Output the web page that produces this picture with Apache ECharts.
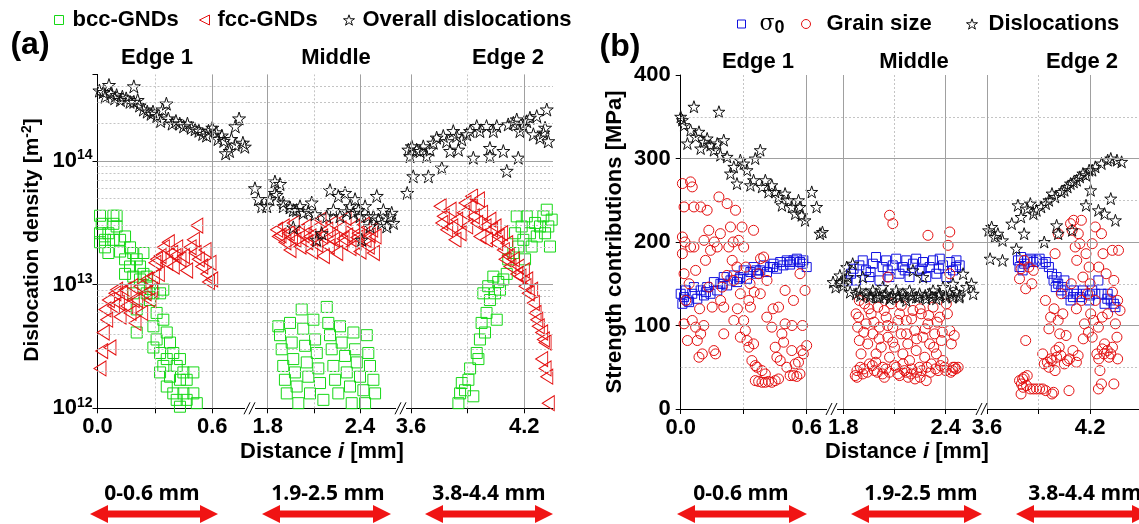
<!DOCTYPE html>
<html><head><meta charset="utf-8">
<script src="https://cdn.jsdelivr.net/npm/echarts@6/dist/echarts.min.js"></script>
<style>html,body{margin:0;padding:0;background:#fff}#c{width:1139px;height:524px}</style>
</head><body><div id="c"></div>
<script>
// ---------------- DATA ----------------
// Panel (a): dislocation density [m^-2] vs distance [mm]
const aEdge1Bcc = [[0.013,3.6e13],[0.013,2.6e13],[0.013,2.2e13],[0.022,3.1e13],[0.039,2.3e13],[0.039,2.0e13],[0.057,2.6e13],[0.057,1.8e13],[0.083,3.6e13],[0.083,3.1e13],[0.083,2.3e13],[0.10,3.6e13],[0.10,2.95e13],[0.118,2.3e13],[0.118,1.85e13],[0.144,2.45e13],[0.144,1.6e13],[0.144,1.22e13],[0.17,2.0e13],[0.17,1.4e13],[0.187,1.8e13],[0.187,1.16e13],[0.187,8.5e12],[0.205,1.6e13],[0.205,6.3e12],[0.205,4.1e12],[0.222,1.4e13],[0.222,1.1e13],[0.24,1.8e13],[0.24,1.22e13],[0.257,1.16e13],[0.257,8.5e12],[0.274,9.7e12],[0.274,7.5e12],[0.292,8.5e12],[0.292,4.6e12],[0.292,3.1e12],[0.309,5.9e12],[0.309,3.6e12],[0.327,8.5e12],[0.327,2.8e12],[0.327,1.95e12],[0.344,9.1e12],[0.344,5.2e12],[0.344,2.2e12],[0.362,4.1e12],[0.362,2.5e12],[0.362,1.5e12],[0.379,3.4e12],[0.379,1.8e12],[0.396,2.8e12],[0.396,1.32e12],[0.414,2.2e12],[0.414,1.17e12],[0.431,2.5e12],[0.431,1.7e12],[0.431,1.03e12],[0.449,1.95e12],[0.449,1.32e12],[0.466,1.7e12],[0.466,1.17e12],[0.501,1.95e12],[0.501,1.32e12],[0.519,1.1e12]];
const aEdge1Fcc = [[0.013,2.1e12],[0.022,2.9e12],[0.030,4.1e12],[0.039,6.3e12],[0.048,5.2e12],[0.057,7.5e12],[0.065,3.1e12],[0.083,6.7e12],[0.091,8.5e12],[0.1,9.1e12],[0.109,7.1e12],[0.118,5.5e12],[0.127,8.5e12],[0.144,9.1e12],[0.153,6.7e12],[0.17,5.9e12],[0.179,9.7e12],[0.187,7.5e12],[0.196,4.9e12],[0.205,7.5e12],[0.222,9.7e12],[0.231,5.9e12],[0.249,8.5e12],[0.257,1.1e13],[0.274,7.5e12],[0.283,9.1e12],[0.292,1.16e13],[0.3,1.5e13],[0.309,1.6e13],[0.318,1.22e13],[0.327,1.7e13],[0.344,2.0e13],[0.362,1.5e13],[0.37,2.2e13],[0.388,1.8e13],[0.396,1.4e13],[0.405,1.7e13],[0.414,2.0e13],[0.431,1.6e13],[0.449,1.7e13],[0.466,1.3e13],[0.484,2.0e13],[0.501,2.3e13],[0.51,1.8e13],[0.519,3.0e13],[0.527,1.6e13],[0.545,1.4e13],[0.562,1.9e13],[0.571,1.22e13],[0.58,1.05e13],[0.588,1.5e13],[0.597,1.1e13]];
const aEdge1Star = [[0.01,3.7e14],[0.03,3.6e14],[0.04,3.3e14],[0.06,4.1e14],[0.07,3.5e14],[0.09,3.2e14],[0.10,3.4e14],[0.12,3.1e14],[0.13,3.3e14],[0.15,3.2e14],[0.17,3.0e14],[0.19,4.0e14],[0.19,3.0e14],[0.21,3.1e14],[0.22,2.8e14],[0.24,2.6e14],[0.26,2.5e14],[0.28,2.4e14],[0.29,2.5e14],[0.31,2.3e14],[0.33,2.1e14],[0.34,2.6e14],[0.36,2.9e14],[0.37,2.2e14],[0.39,2.0e14],[0.41,2.1e14],[0.43,2.0e14],[0.45,1.9e14],[0.47,2.0e14],[0.49,1.85e14],[0.51,1.8e14],[0.53,1.75e14],[0.55,1.65e14],[0.57,1.6e14],[0.58,1.75e14],[0.60,1.85e14],[0.62,1.7e14],[0.63,1.5e14],[0.65,1.6e14],[0.66,1.45e14],[0.67,1.15e14],[0.69,1.2e14],[0.70,1.5e14],[0.72,1.35e14],[0.72,1.9e14],[0.74,2.2e14],[0.76,1.4e14],[0.77,1.3e14]];
const aMidBcc = [[1.869,4.6e12],[1.88,3.9e12],[1.891,3.0e12],[1.901,2.2e12],[1.912,1.7e12],[1.924,1.32e12],[1.945,4.9e12],[1.956,3.4e12],[1.966,2.5e12],[1.977,1.95e12],[1.988,1.5e12],[1.999,1.1e12],[2.021,6.3e12],[2.031,4.4e12],[2.043,3.2e12],[2.054,2.35e12],[2.064,1.8e12],[2.075,1.32e12],[2.097,5.2e12],[2.108,3.6e12],[2.119,2.8e12],[2.129,2.1e12],[2.14,1.6e12],[2.162,1.17e12],[2.184,6.6e12],[2.194,4.9e12],[2.205,3.9e12],[2.216,3.0e12],[2.227,2.2e12],[2.238,1.7e12],[2.259,1.32e12],[2.27,4.6e12],[2.281,3.4e12],[2.303,2.65e12],[2.314,1.95e12],[2.335,1.5e12],[2.346,1.1e12],[2.357,4.1e12],[2.368,3.0e12],[2.379,2.35e12],[2.4,1.8e12],[2.422,1.4e12],[2.433,1.1e12],[2.444,3.9e12],[2.454,2.8e12],[2.465,2.2e12],[2.487,1.7e12],[2.498,1.32e12]];
const aMidFcc = [[1.858,2.78e13],[1.869,2.45e13],[1.88,2.5e13],[1.901,2.95e13],[1.912,2.2e13],[1.934,2.6e13],[1.945,1.9e13],[1.955,2.4e13],[1.966,3.15e13],[1.977,2.3e13],[1.999,2.7e13],[2.01,2.03e13],[2.03,2.5e13],[2.043,2.95e13],[2.054,2.2e13],[2.075,2.45e13],[2.086,1.85e13],[2.1,2.35e13],[2.108,2.85e13],[2.119,2.1e13],[2.14,3.35e13],[2.151,2.45e13],[2.162,1.7e13],[2.184,2.78e13],[2.194,2.03e13],[2.2,2.4e13],[2.216,3.15e13],[2.227,2.3e13],[2.249,1.8e13],[2.27,2.85e13],[2.281,2.16e13],[2.29,2.35e13],[2.303,3.45e13],[2.314,2.5e13],[2.335,1.97e13],[2.357,2.95e13],[2.368,2.2e13],[2.38,2.4e13],[2.389,2.6e13],[2.4,1.85e13],[2.422,3.05e13],[2.433,2.3e13],[2.454,2.03e13],[2.46,2.5e13],[2.476,2.78e13],[2.487,1.8e13],[2.498,2.45e13]];
const aMidStar = [[1.717,6.0e13],[1.739,4.9e13],[1.761,4.3e13],[1.794,4.3e13],[1.815,4.9e13],[1.847,6.8e13],[1.847,5.5e13],[1.858,5.3e13],[1.88,6.5e13],[1.901,4.3e13],[1.901,4.6e13],[1.945,4.2e13],[1.966,2.9e13],[1.966,4.0e13],[1.988,4.0e13],[2.01,4.3e13],[2.031,3.8e13],[2.064,3.9e13],[2.086,4.6e13],[2.108,3.7e13],[2.119,2.3e13],[2.151,2.6e13],[2.184,3.56e13],[2.205,5.8e13],[2.227,4.0e13],[2.259,5.2e13],[2.27,3.56e13],[2.303,5.5e13],[2.314,3.9e13],[2.335,4.3e13],[2.357,3.8e13],[2.368,4.9e13],[2.389,4.0e13],[2.4,3.56e13],[2.411,2.3e13],[2.433,4.3e13],[2.454,3.56e13],[2.465,2.95e13],[2.487,3.56e13],[2.509,5.2e13],[2.519,3.35e13],[2.541,3.15e13],[2.552,4.0e13],[2.574,2.95e13],[2.595,3.56e13],[2.606,3.8e13],[2.617,3.15e13]];
const aEdge2Bcc = [[3.851,1.1e12],[3.86,1.32e12],[3.869,1.6e12],[3.886,1.4e12],[3.904,1.7e12],[3.913,2.1e12],[3.93,1.25e12],[3.948,2.8e12],[3.957,2.5e12],[3.965,3.6e12],[3.974,4.9e12],[3.983,8.5e12],[3.992,4.1e12],[4.0,5.9e12],[4.009,9.7e12],[4.018,7.5e12],[4.036,1.16e13],[4.045,8.5e12],[4.054,5.2e12],[4.062,1.05e13],[4.071,9.1e12],[4.089,1.1e13],[4.107,1.22e13],[4.115,1.6e13],[4.142,1.8e13],[4.151,2.6e13],[4.16,3.56e13],[4.168,2.03e13],[4.186,2.95e13],[4.195,2.3e13],[4.204,1.6e13],[4.213,3.56e13],[4.23,2.6e13],[4.239,2.03e13],[4.257,3.15e13],[4.266,2.45e13],[4.283,2.95e13],[4.301,3.56e13],[4.31,2.6e13],[4.319,4.03e13],[4.327,2.95e13],[4.336,2.03e13],[4.345,3.35e13]];
const aEdge2Fcc = [[3.754,4.3e13],[3.763,3.15e13],[3.771,3.56e13],[3.789,2.78e13],[3.807,4.03e13],[3.816,2.95e13],[3.833,2.3e13],[3.842,3.35e13],[3.86,2.6e13],[3.877,3.8e13],[3.886,4.57e13],[3.895,2.95e13],[3.913,4.3e13],[3.921,5.17e13],[3.93,3.56e13],[3.948,3.15e13],[3.957,4.87e13],[3.965,2.45e13],[3.974,3.8e13],[3.992,2.95e13],[4.0,2.3e13],[4.018,3.35e13],[4.027,2.78e13],[4.045,2.95e13],[4.054,2.16e13],[4.062,2.45e13],[4.08,2.6e13],[4.089,1.9e13],[4.098,1.6e13],[4.107,2.16e13],[4.115,1.7e13],[4.124,1.4e13],[4.142,1.6e13],[4.16,1.22e13],[4.168,1.4e13],[4.177,1.16e13],[4.195,1.3e13],[4.204,9.7e12],[4.213,1.1e13],[4.221,8.5e12],[4.239,9.1e12],[4.248,7.1e12],[4.257,5.9e12],[4.266,5.2e12],[4.274,4.6e12],[4.292,4.1e12],[4.301,3.6e12],[4.31,3.4e12],[4.292,2.5e12],[4.31,2.1e12],[4.319,1.8e12],[4.327,1.1e12]];
const aEdge2Star = [[3.58,5.5e13],[3.586,1.23e14],[3.595,1.09e14],[3.604,1.31e14],[3.612,7.5e13],[3.63,1.23e14],[3.648,1.2e14],[3.665,1.31e14],[3.683,1.09e14],[3.692,7.5e13],[3.701,1.23e14],[3.718,1.4e14],[3.736,1.54e14],[3.763,8.8e13],[3.771,1.59e14],[3.789,1.44e14],[3.807,1.2e14],[3.824,1.74e14],[3.842,1.59e14],[3.851,1.23e14],[3.869,1.49e14],[3.895,1.64e14],[3.913,1.74e14],[3.93,1.06e14],[3.948,1.91e14],[3.965,1.74e14],[4.0,1.91e14],[4.018,1.27e14],[4.018,1.09e14],[4.036,1.74e14],[4.054,1.91e14],[4.089,1.2e14],[4.107,8.3e13],[4.115,1.97e14],[4.142,2.03e14],[4.16,2.16e14],[4.168,1.06e14],[4.177,1.74e14],[4.195,1.91e14],[4.213,2.09e14],[4.23,2.23e14],[4.248,1.64e14],[4.266,2.3e14],[4.283,1.54e14],[4.301,1.69e14],[4.31,1.85e14],[4.319,2.6e14],[4.327,1.44e14]];

// Panel (b): strength contributions [MPa] vs distance [mm]
const bEdge1Sigma = [[0,138],[0.008,126],[0.016,134],[0.024,142],[0.032,130],[0.04,128],[0.055,138],[0.063,146],[0.079,132],[0.095,142],[0.111,136],[0.12,140],[0.126,146],[0.142,138],[0.158,152],[0.174,142],[0.189,150],[0.2,150],[0.205,158],[0.221,148],[0.237,154],[0.253,160],[0.268,152],[0.28,156],[0.284,158],[0.3,166],[0.316,156],[0.332,164],[0.347,170],[0.36,166],[0.363,162],[0.379,166],[0.395,172],[0.411,164],[0.426,170],[0.44,170],[0.442,174],[0.458,168],[0.474,176],[0.489,172],[0.505,178],[0.52,176],[0.521,173],[0.537,178],[0.553,180],[0.568,176],[0.58,174],[0.584,178],[0.6,170]];
const bEdge1Grain = [[0.008,270],[0.016,242],[0.008,206],[0.008,186],[0.016,162],[0.024,130],[0.016,102],[0.032,82],[0.047,272],[0.055,266],[0.047,194],[0.063,242],[0.063,194],[0.071,166],[0.055,106],[0.071,98],[0.079,82],[0.087,62],[0.095,90],[0.103,66],[0.095,242],[0.111,202],[0.118,178],[0.126,238],[0.134,214],[0.134,146],[0.142,190],[0.15,122],[0.158,70],[0.166,66],[0.174,194],[0.182,254],[0.189,210],[0.197,146],[0.205,122],[0.205,90],[0.221,246],[0.229,194],[0.237,218],[0.245,178],[0.253,154],[0.253,106],[0.261,238],[0.268,170],[0.276,202],[0.284,86],[0.284,138],[0.292,218],[0.3,194],[0.3,106],[0.308,94],[0.316,82],[0.324,130],[0.324,74],[0.332,122],[0.339,58],[0.347,214],[0.347,78],[0.355,52],[0.363,50],[0.371,162],[0.379,138],[0.387,46],[0.395,182],[0.403,42],[0.411,154],[0.434,98],[0.45,74],[0.458,62],[0.466,122],[0.474,58],[0.482,90],[0.497,142],[0.497,102],[0.505,50],[0.529,70],[0.537,130],[0.545,54],[0.561,56],[0.568,162],[0.576,70],[0.584,66],[0.592,142],[0.6,76],[0.355,34],[0.371,33],[0.387,32],[0.403,32],[0.418,33],[0.434,32],[0.45,34],[0.466,36],[0.521,40],[0.537,40],[0.553,39],[0.568,42],[0.02,200],[0.04,150],[0.09,120],[0.11,100],[0.16,200],[0.19,130],[0.22,160],[0.25,200],[0.27,120],[0.31,170],[0.33,150],[0.35,140],[0.38,180],[0.41,110],[0.44,120],[0.49,80],[0.53,100],[0.58,100]];
const bEdge1Disl = [[0.0,350],[0.008,346],[0.016,340],[0.032,318],[0.047,334],[0.063,362],[0.071,326],[0.087,332],[0.095,312],[0.111,320],[0.126,324],[0.142,316],[0.158,310],[0.174,318],[0.182,356],[0.189,304],[0.205,322],[0.221,302],[0.237,282],[0.253,290],[0.268,270],[0.284,298],[0.3,294],[0.316,286],[0.332,268],[0.347,274],[0.355,300],[0.379,310],[0.387,266],[0.403,274],[0.418,260],[0.434,268],[0.45,260],[0.466,254],[0.482,244],[0.497,258],[0.513,250],[0.529,242],[0.545,234],[0.561,250],[0.568,242],[0.576,232],[0.592,226],[0.624,260],[0.647,242],[0.663,210],[0.675,212]];
const bMidSigma = [[1.825,154],[1.845,162],[1.86,168],[1.875,154],[1.894,172],[1.914,178],[1.933,166],[1.953,158],[1.96,164],[1.973,174],[1.992,182],[2.012,154],[2.031,170],[2.051,178],[2.06,166],[2.071,158],[2.09,172],[2.11,180],[2.129,162],[2.149,170],[2.16,166],[2.169,178],[2.188,158],[2.208,174],[2.227,180],[2.247,166],[2.26,168],[2.267,176],[2.286,158],[2.306,170],[2.326,178],[2.345,162],[2.36,168],[2.365,180],[2.384,172],[2.404,158],[2.424,176],[2.443,166],[2.46,170],[2.463,178],[2.482,172]];
const bMidGrain = [[1.875,114],[1.884,98],[1.894,82],[1.904,66],[1.914,42],[1.924,126],[1.933,102],[1.943,78],[1.953,54],[1.963,114],[1.973,90],[1.982,46],[1.992,66],[2.002,122],[2.012,98],[2.022,74],[2.031,50],[2.041,38],[2.051,110],[2.061,86],[2.071,62],[2.08,126],[2.09,98],[2.1,74],[2.11,50],[2.12,42],[2.129,114],[2.139,90],[2.149,66],[2.159,46],[2.169,106],[2.178,78],[2.188,58],[2.198,42],[2.208,118],[2.218,94],[2.227,70],[2.247,50],[2.257,114],[2.267,86],[2.277,62],[2.286,34],[2.296,102],[2.306,78],[2.316,54],[2.326,122],[2.335,90],[2.345,66],[2.355,46],[2.365,110],[2.375,82],[2.384,58],[2.394,50],[2.404,126],[2.424,94],[2.433,78],[2.443,50],[2.453,50],[2.473,50],[2.071,232],[2.09,222],[2.296,208],[2.424,212],[2.414,196],[2.061,158],[2.424,162],[1.894,130],[1.87,40],[1.88,38],[2.18,38],[2.22,36],[2.25,38],[2.44,46],[1.88,46],[1.9,50],[1.92,48],[1.94,44],[1.97,52],[1.99,56],[2.0,44],[2.03,42],[2.05,48],[2.07,44],[2.1,52],[2.13,40],[2.15,54],[2.17,44],[2.2,48],[2.23,44],[2.26,46],[2.29,50],[2.31,44],[2.34,48],[2.37,52],[2.4,46],[2.43,44],[2.46,48],[1.89,110],[1.92,92],[1.95,120],[1.98,104],[2.01,84],[2.04,118],[2.06,100],[2.09,80],[2.12,106],[2.14,124],[2.17,90],[2.2,108],[2.23,84],[2.25,120],[2.28,96],[2.3,112],[2.33,74],[2.35,104],[2.38,92],[2.41,114],[2.45,88]];
const bMidDisl = [[1.74,152],[1.755,146],[1.78,160],[1.786,152],[1.8,148],[1.806,154],[1.82,170],[1.825,158],[1.84,140],[1.855,174],[1.875,138],[1.894,142],[1.9,136],[1.914,158],[1.933,138],[1.953,134],[1.96,136],[1.973,142],[1.992,138],[2.0,134],[2.012,134],[2.031,146],[2.04,136],[2.051,138],[2.071,132],[2.08,134],[2.09,136],[2.11,142],[2.12,136],[2.129,134],[2.149,138],[2.16,134],[2.169,130],[2.188,142],[2.2,136],[2.208,166],[2.227,134],[2.24,134],[2.247,138],[2.267,158],[2.28,136],[2.286,132],[2.306,138],[2.32,134],[2.326,142],[2.345,132],[2.36,136],[2.365,138],[2.384,146],[2.4,136],[2.404,134],[2.424,138],[2.44,134],[2.443,150],[2.463,140],[2.48,134],[2.482,136],[2.502,162],[2.522,146],[2.551,150],[2.561,138]];
const bEdge2Sigma = [[3.78,178],[3.789,170],[3.798,182],[3.807,166],[3.816,174],[3.834,178],[3.852,180],[3.87,176],[3.888,178],[3.906,180],[3.924,174],[3.942,176],[3.96,170],[3.978,162],[3.987,154],[4.0,146],[4.005,158],[4.014,150],[4.032,142],[4.04,146],[4.05,154],[4.068,138],[4.086,130],[4.1,134],[4.104,142],[4.122,138],[4.14,134],[4.158,142],[4.176,138],[4.194,130],[4.2,136],[4.212,142],[4.23,138],[4.248,154],[4.266,138],[4.284,126],[4.3,132],[4.302,138],[4.32,130],[4.338,126],[4.347,122]];
const bEdge2Grain = [[3.789,156],[3.798,168],[3.816,178],[3.825,144],[3.843,170],[3.861,150],[3.87,166],[3.825,82],[3.789,34],[3.807,36],[3.816,38],[3.834,40],[3.798,18],[3.852,24],[3.87,24],[3.888,24],[3.906,24],[3.924,24],[3.942,22],[3.978,18],[3.987,20],[3.924,66],[3.933,54],[3.951,56],[3.96,50],[3.978,58],[3.996,186],[3.996,46],[4.005,62],[4.014,210],[4.014,106],[4.023,90],[4.032,138],[4.041,114],[4.05,54],[4.068,58],[4.077,22],[4.086,222],[4.095,214],[4.104,226],[4.113,194],[4.122,178],[4.131,210],[4.14,198],[4.149,226],[4.158,158],[4.167,102],[4.176,186],[4.185,138],[4.194,170],[4.203,114],[4.212,198],[4.212,86],[4.23,218],[4.23,130],[4.239,66],[4.248,98],[4.257,46],[4.266,210],[4.275,186],[4.284,78],[4.293,162],[4.302,114],[4.32,66],[4.329,190],[4.338,154],[4.347,102],[4.338,30],[4.356,86],[4.248,24],[4.266,30],[4.365,190],[4.374,118],[3.96,96],[3.99,120],[4.02,74],[4.06,88],[4.1,70],[4.13,64],[4.16,84],[4.19,92],[4.22,106],[4.27,72],[4.31,62],[4.36,130],[3.94,130],[3.97,110],[3.8,30],[3.81,26],[3.83,28],[3.97,60],[4.0,70],[4.03,64],[4.08,60],[4.12,56],[4.25,60],[4.28,66],[4.3,70],[4.33,74],[4.36,60],[4.09,150],[4.12,120],[4.15,130],[4.2,150],[4.25,170],[4.27,110],[4.33,140]];
const bEdge2Disl = [[3.609,214],[3.618,180],[3.627,218],[3.645,206],[3.663,210],[3.69,202],[3.69,178],[3.744,222],[3.771,192],[3.78,244],[3.798,230],[3.816,210],[3.834,240],[3.852,246],[3.87,234],[3.888,238],[3.915,242],[3.933,200],[3.942,246],[3.96,250],[3.978,258],[3.996,254],[4.005,220],[4.014,210],[4.032,260],[4.05,262],[4.068,266],[4.086,270],[4.095,214],[4.104,272],[4.122,274],[4.14,278],[4.158,282],[4.176,280],[4.176,244],[4.194,286],[4.203,262],[4.212,286],[4.23,290],[4.248,238],[4.266,294],[4.284,234],[4.302,298],[4.32,300],[4.32,252],[4.347,226],[4.356,298],[4.383,296]];

// tick labels / tick positions per axis segment
const segLabels = [[0, 0.6], [1.8, 2.4], [3.6, 4.2]];
const segTicks = [[0, 0.3, 0.6], [1.8, 2.1, 2.4], [3.6, 3.9, 4.2]];
const segMinorLines = [[0.3], [2.1], [3.9]];
const segMajorLines = [[0.6], [1.8, 2.4], [3.6, 4.2]];
const aYRange = [1e12, 5e14];
const aYMajor = [1e13, 1e14];
const aYMinor = [2e12,3e12,4e12,5e12,6e12,7e12,8e12,9e12,2e13,3e13,4e13,5e13,6e13,7e13,8e13,9e13,2e14,3e14,4e14];
const bYRange = [0, 400];
const bYMajor = [100, 200, 300];
const bYMinor = [50, 150, 250, 350];
const segTitles = ['Edge 1', 'Middle', 'Edge 2'];
const rangeLabels = ['0-0.6 mm', '1.9-2.5 mm', '3.8-4.4 mm'];

// ---------------- LAYOUT ----------------
const FONT = '"Liberation Sans", Arial, sans-serif';
const A = {top: 74.4, bottom: 408.3, segs: [
  {x0: 97.5, x1: 248, p: [97.5, 212.3]},
  {x0: 248, x1: 404, p: [267.7, 360]},
  {x0: 404, x1: 553, p: [411, 524.3]}]};
const B = {top: 75, bottom: 409, segs: [
  {x0: 680.7, x1: 829, p: [680.7, 806.7]},
  {x0: 829, x1: 983, p: [843.3, 945.7]},
  {x0: 983, x1: 1150, p: [987.3, 1097.7]}]};
function extent(s, v) {
  const k = (s.p[1] - s.p[0]) / (v[1] - v[0]);
  return [v[0] - (s.p[0] - s.x0) / k, v[0] + (s.x1 - s.p[0]) / k];
}

const GREEN = '#16d816', RED = '#e41010', BLUE = '#1010e0', BLACK = '#111';
const TRI = 'path://M0,50 L100,0 L100,100 Z';
const STAR = 'path://M50,0 L61.8,35.3 L99,35.3 L69,57.1 L80.9,92.7 L50,70.8 L19.1,92.7 L31,57.1 L1,35.3 L38.2,35.3 Z';
const EMPTY = 'rgba(255,255,255,0)';

const grids = [], xAxes = [], yAxes = [], series = [];
const SOLID = {color: '#a0a0a0', width: 1, type: 'solid'};
const DOT = {color: '#c4c4c4', width: 1, type: [2, 2]};

function buildPanel(P, isLog, gOff) {
  P.segs.forEach((s, i) => {
    const g = gOff + i;
    const ext = extent(s, segLabels[i]);
    grids.push({left: s.x0, top: P.top, width: s.x1 - s.x0, height: P.bottom - P.top});
    xAxes.push({
      type: 'value', gridIndex: g, min: ext[0], max: ext[1],
      axisLine: {show: true, onZero: false, lineStyle: {color: '#000', width: 1}},
      axisTick: {show: true, customValues: segTicks[i], length: 5, lineStyle: {color: '#000'}},
      axisLabel: {show: true, customValues: segLabels[i], formatter: v => v.toFixed(1),
        fontFamily: FONT, fontWeight: 'bold', fontSize: 22, color: '#000', margin: 8},
      splitLine: {show: false}
    });
    if (isLog) {
      yAxes.push({
        type: 'log', logBase: 10, gridIndex: g, min: aYRange[0], max: aYRange[1], show: i === 0,
        axisLine: {show: true, lineStyle: {color: '#000'}},
        axisTick: {show: true, length: 5, lineStyle: {color: '#000'}},
        axisLabel: {margin: 5, color: '#000',
          formatter: v => { const l = Math.log10(v), e = Math.round(l); return Math.abs(l - e) > 1e-6 ? '' : '{b|10}{s|' + e + '}'; },
          rich: {b: {fontFamily: FONT, fontWeight: 'bold', fontSize: 22, color: '#000'},
                 s: {fontFamily: FONT, fontWeight: 'bold', fontSize: 14, color: '#000', padding: [0, 0, 11, 0]}}},
        splitLine: {show: false}
      });
    } else {
      yAxes.push({
        type: 'value', gridIndex: g, min: bYRange[0], max: bYRange[1], interval: 100, show: i === 0,
        axisLine: {show: true, lineStyle: {color: '#000'}},
        axisTick: {show: true, length: 5, lineStyle: {color: '#000'}},
        axisLabel: {margin: 10, fontFamily: FONT, fontWeight: 'bold', fontSize: 22, color: '#000'},
        splitLine: {show: false}
      });
    }
    const major = isLog ? aYMajor : bYMajor, minor = isLog ? aYMinor : bYMinor;
    const ml = [];
    minor.forEach(v => ml.push({yAxis: v, lineStyle: DOT}));
    major.forEach(v => ml.push({yAxis: v, lineStyle: SOLID}));
    segMinorLines[i].forEach(v => ml.push({xAxis: v, lineStyle: DOT}));
    segMajorLines[i].forEach(v => ml.push({xAxis: v, lineStyle: SOLID}));
    series.push({type: 'scatter', name: '_grid' + g, xAxisIndex: g, yAxisIndex: g, data: [], z: 1, silent: true,
      markLine: {silent: true, symbol: ['none', 'none'], label: {show: false}, animation: false, emphasis: {disabled: true}, data: ml}});
  });
}
buildPanel(A, true, 0);
buildPanel(B, false, 3);

function sc(name, data, g, symbol, size, color) {
  series.push({type: 'scatter', name, data, xAxisIndex: g, yAxisIndex: g, symbol, symbolSize: size, z: 3,
    itemStyle: {color: EMPTY, borderColor: color, borderWidth: 1, opacity: 1},
    emphasis: {disabled: true}, animation: false});
}
[[aEdge1Bcc, aEdge1Fcc, aEdge1Star], [aMidBcc, aMidFcc, aMidStar], [aEdge2Bcc, aEdge2Fcc, aEdge2Star]].forEach((d, i) => {
  sc('bcc-GNDs', d[0], i, 'rect', 11, GREEN);
  sc('fcc-GNDs', d[1], i, TRI, [12, 15], RED);
  sc('Overall dislocations', d[2], i, STAR, 13, BLACK);
});
[[bEdge1Sigma, bEdge1Grain, bEdge1Disl], [bMidSigma, bMidGrain, bMidDisl], [bEdge2Sigma, bEdge2Grain, bEdge2Disl]].forEach((d, i) => {
  sc('σ0', d[0], 3 + i, 'rect', 9, BLUE);
  sc('Grain size', d[1], 3 + i, 'circle', 10, RED);
  sc('Dislocations', d[2], 3 + i, STAR, 12, BLACK);
});

const legTxt = {fontFamily: FONT, fontWeight: 'bold', fontSize: 22, color: '#000'};
function leg(name, icon, color, left, top, w, h, pad, extra) {
  return Object.assign({data: [{name, icon, itemStyle: {color: EMPTY, borderColor: color, borderWidth: 1}}],
    left, top, itemWidth: w, itemHeight: h, selectedMode: false,
    padding: 0, textStyle: Object.assign({}, legTxt, {padding: [0, 0, 0, pad]})}, extra || {});
}
const legends = [
  leg('bcc-GNDs', 'rect', GREEN, 54, 9, 9, 9, 4),
  leg('fcc-GNDs', TRI, RED, 199, 9, 10, 12, 3),
  leg('Overall dislocations', STAR, BLACK, 343, 9, 11, 11, 3),
  leg('σ0', 'rect', BLUE, 737, 13, 8, 8, 9, {formatter: () => '{a|σ}{s|0}',
    textStyle: {padding: [0, 0, 0, 9], rich: {a: {fontFamily: '"DejaVu Serif", serif', fontSize: 22, color: '#000'},
      s: {fontFamily: FONT, fontWeight: 'bold', fontSize: 18, color: '#000', padding: [9, 0, 0, 0]}}}}),
  leg('Grain size', 'circle', RED, 801, 13, 9, 9, 11),
  leg('Dislocations', STAR, BLACK, 966, 13, 11, 11, 6)
];

// ---------------- GRAPHICS (text & decorations) ----------------
const gfx = [];
function txt(text, x, y, size) {
  gfx.push({type: 'text', x, y, z: 20, style: {text, fontFamily: FONT, fontWeight: 'bold', fontSize: size,
    fill: '#000', align: 'center', verticalAlign: 'middle'}});
}
txt('(a)', 30, 45, 32);
txt('(b)', 620, 47, 32);
[157, 336, 508].forEach((x, i) => txt(segTitles[i], x, 58, 22));
[758, 914, 1082].forEach((x, i) => txt(segTitles[i], x, 62, 22));
const richY = {a: {fontFamily: FONT, fontWeight: 'bold', fontSize: 21, fill: '#000'},
               s: {fontFamily: FONT, fontWeight: 'bold', fontSize: 14, fill: '#000', padding: [0, 0, 10, 0]}};
gfx.push({type: 'text', x: 32, y: 240, rotation: Math.PI / 2, z: 20,
  style: {text: '{a|Dislocation density [m}{s|-2}{a|]}', rich: richY, align: 'center', verticalAlign: 'middle'}});
gfx.push({type: 'text', x: 615, y: 242, rotation: Math.PI / 2, z: 20,
  style: {text: 'Strength contributions [MPa]', fontFamily: FONT, fontWeight: 'bold', fontSize: 22, fill: '#000', align: 'center', verticalAlign: 'middle'}});
const richX = {a: {fontFamily: FONT, fontWeight: 'bold', fontSize: 22, fill: '#000'},
               i: {fontFamily: FONT, fontWeight: 'bold', fontStyle: 'italic', fontSize: 22, fill: '#000'}};
[[322, 452], [907, 452]].forEach(p => gfx.push({type: 'text', x: p[0], y: p[1], z: 20,
  style: {text: '{a|Distance }{i|i}{a| [mm]}', rich: richX, align: 'center', verticalAlign: 'middle'}}));
// range labels + double arrows
const arrowsX = [[90, 218], [262, 391], [425, 553], [677, 807], [851, 982], [1016, 1150]];
const labelX = [152, 328, 489, 741, 921, 1085];
arrowsX.forEach((a, i) => {
  const yc = 514, xa = a[0], xb = a[1], hl = 18, hh = 9, bh = 3.5;
  gfx.push({type: 'polygon', z: 20, shape: {points: [[xa, yc], [xa + hl, yc - hh], [xa + hl, yc - bh], [xb - hl, yc - bh], [xb - hl, yc - hh], [xb, yc],
    [xb - hl, yc + hh], [xb - hl, yc + bh], [xa + hl, yc + bh], [xa + hl, yc + hh]]}, style: {fill: '#f01414'}});
  gfx.push({type: 'text', x: labelX[i], y: 494, z: 20, style: {text: rangeLabels[i % 3], fontFamily: '"Open Sans", sans-serif', fontWeight: 'bold',
    fontSize: 21, fill: '#000', align: 'center', verticalAlign: 'middle'}});
});
// axis break marks
[[250, 408.3], [401, 408.3], [832, 409], [982, 409]].forEach(b => {
  const [cx, y] = b;
  gfx.push({type: 'rect', z: 19, shape: {x: cx - 5, y: y - 3, width: 10, height: 6}, style: {fill: '#fff'}});
  [-3, 2].forEach(d => gfx.push({type: 'line', z: 20, shape: {x1: cx + d - 3, y1: y + 6, x2: cx + d + 3, y2: y - 6}, style: {stroke: '#000', lineWidth: 1}}));
});

const chart = echarts.init(document.getElementById('c'), null, {renderer: 'canvas'});
chart.setOption({
  backgroundColor: '#fff', animation: false,
  grid: grids, xAxis: xAxes, yAxis: yAxes, legend: legends, series, graphic: gfx
});
</script></body></html>
